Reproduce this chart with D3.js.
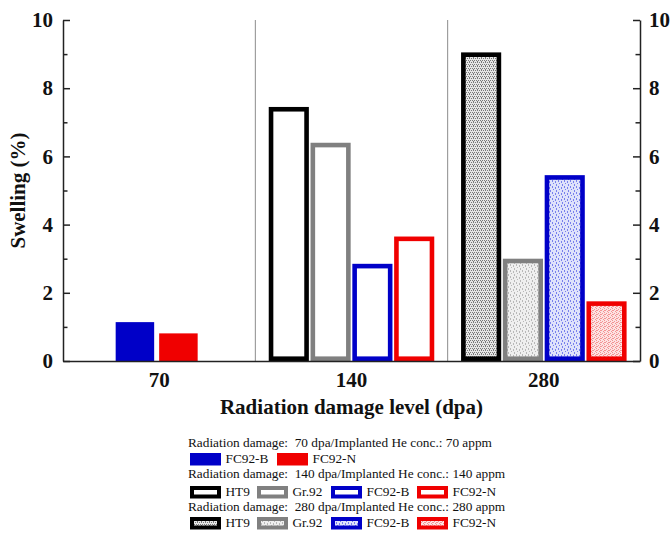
<!DOCTYPE html>
<html>
<head>
<meta charset="utf-8">
<script src="https://cdn.jsdelivr.net/npm/d3@7"></script>
<style>
  html, body { margin: 0; padding: 0; background: #fff; }
  svg { display: block; }
</style>
</head>
<body>
<svg id="chart" width="671" height="533"></svg>
<script>
// Damage levels (dpa) on the x axis
const damageLevels = ["70", "140", "280"];

// Swelling (%) per alloy at each damage level
const alloys70 = ["FC92-B", "FC92-N"];
const swelling70 = [1.14, 0.81];

const alloys140 = ["HT9", "Gr.92", "FC92-B", "FC92-N"];
const swelling140 = [7.45, 6.4, 2.85, 3.65];

const alloys280 = ["HT9", "Gr.92", "FC92-B", "FC92-N"];
const swelling280 = [9.05, 3.0, 5.45, 1.75];

// Y axis ticks
const yMajorTicks = [0, 2, 4, 6, 8, 10];
const yMinorTicks = [1, 3, 5, 7, 9];

// Legend headings
const legendHeadings = [
  "Radiation damage:  70 dpa/Implanted He conc.: 70 appm",
  "Radiation damage:  140 dpa/Implanted He conc.: 140 appm",
  "Radiation damage:  280 dpa/Implanted He conc.: 280 appm"
];

const alloyColor = { "HT9": "#000000", "Gr.92": "#808080", "FC92-B": "#0000c8", "FC92-N": "#f00000" };
const serif = "'Liberation Serif', 'Times New Roman', serif";

const svg = d3.select("#chart").style("font-family", serif);
const margin = { left: 63, right: 31, top: 20, bottom: 172 };
const W = 671, H = 533;
const x0 = margin.left, x1 = W - margin.right;
const yTop = margin.top, yBot = H - margin.bottom;

const x = d3.scaleBand().domain(damageLevels).range([x0, x1]).padding(0);
const y = d3.scaleLinear().domain([0, 10]).range([yBot, yTop]);

// Fill patterns used by the 280 dpa bars
const defs = svg.append("defs");
function dotPattern(id, bg, fg, cells, size) {
  const p = defs.append("pattern").attr("id", id).attr("patternUnits", "userSpaceOnUse")
    .attr("width", size).attr("height", size);
  p.append("rect").attr("width", size).attr("height", size).attr("fill", bg);
  cells.forEach(c => p.append("rect").attr("x", c[0]).attr("y", c[1])
    .attr("width", c[2] || 1).attr("height", c[3] || 1).attr("fill", fg));
}
dotPattern("pat-HT9", "#e6e6e6", "#7a7a7a", [[0,0],[2,0],[1,2],[3,2],[1,1]], 4);
dotPattern("pat-Gr92", "#efefef", "#b8b8b8", [[0,0,1,2],[3,1,1,2],[1,3,1,1],[4,4,1,2]], 6);
dotPattern("pat-FC92B", "#dfe2fb", "#7880ec", [[0,0,1,2],[3,1,1,2],[1,3,1,1],[4,4,1,2]], 6);
dotPattern("pat-FC92N", "#fde2e2", "#f39494", [[0,0],[2,1],[1,2],[3,3],[0,2]], 4);
const patternFor = { "HT9": "url(#pat-HT9)", "Gr.92": "url(#pat-Gr92)", "FC92-B": "url(#pat-FC92B)", "FC92-N": "url(#pat-FC92N)" };

// Panel dividers between damage levels
svg.append("g").selectAll("line").data(damageLevels.slice(1)).join("line")
  .attr("x1", d => x(d)).attr("x2", d => x(d))
  .attr("y1", yTop).attr("y2", yBot)
  .attr("stroke", "#8c8c8c").attr("stroke-width", 1);

const bw = 4.6; // outline width of hollow / patterned bars

function drawGroup(level, alloys, values, step, padIn, mode, shift) {
  const c = x(level) + x.bandwidth() / 2 + shift;
  const half = step * (alloys.length - padIn) / 2;
  const sub = d3.scaleBand().domain(alloys).range([c - half, c + half]).paddingInner(padIn).paddingOuter(0);
  const data = alloys.map((a, i) => ({ a, v: values[i] }));
  const g = svg.append("g");
  if (mode === "solid") {
    g.selectAll("rect").data(data).join("rect")
      .attr("x", d => sub(d.a)).attr("width", sub.bandwidth())
      .attr("y", d => y(d.v)).attr("height", d => yBot - y(d.v))
      .attr("fill", d => alloyColor[d.a]);
  } else {
    g.selectAll("rect").data(data).join("rect")
      .attr("x", d => sub(d.a) + bw / 2).attr("width", sub.bandwidth() - bw)
      .attr("y", d => y(d.v) + bw / 2).attr("height", d => yBot - y(d.v) - bw)
      .attr("fill", d => mode === "pattern" ? patternFor[d.a] : "#fff")
      .attr("stroke", d => alloyColor[d.a]).attr("stroke-width", bw);
  }
}
drawGroup("70", alloys70, swelling70, 43.5, 0.115, "solid", -2.5);
drawGroup("140", alloys140, swelling140, 41.8, 0.04, "outline", 0);
drawGroup("280", alloys280, swelling280, 41.8, 0.04, "pattern", 0);

// Axes
const axisColor = "#222";
function styleAxis(g) {
  g.attr("font-family", null).attr("font-size", null)
    .style("font-family", serif).style("font-size", "21px").style("font-weight", "bold");
  g.selectAll("path, line").attr("stroke", axisColor).attr("stroke-width", 1.5);
  g.selectAll("text").attr("fill", "#111");
}
const leftAxis = svg.append("g").attr("transform", `translate(${x0},0)`)
  .call(d3.axisLeft(y).tickValues(yMajorTicks).tickSize(-7).tickSizeOuter(0).tickPadding(10).tickFormat(d3.format("d")));
styleAxis(leftAxis);
const leftMinor = svg.append("g").attr("transform", `translate(${x0},0)`)
  .call(d3.axisLeft(y).tickValues(yMinorTicks).tickSize(-4.5).tickSizeOuter(0).tickFormat(""));
styleAxis(leftMinor); leftMinor.select(".domain").remove();

const rightAxis = svg.append("g").attr("transform", `translate(${x1},0)`)
  .call(d3.axisRight(y).tickValues(yMajorTicks).tickSize(-7).tickSizeOuter(0).tickPadding(9).tickFormat(d3.format("d")));
styleAxis(rightAxis);
const rightMinor = svg.append("g").attr("transform", `translate(${x1},0)`)
  .call(d3.axisRight(y).tickValues(yMinorTicks).tickSize(-4.5).tickSizeOuter(0).tickFormat(""));
styleAxis(rightMinor); rightMinor.select(".domain").remove();

const bottomAxis = svg.append("g").attr("transform", `translate(0,${yBot})`)
  .call(d3.axisBottom(x).tickSize(0).tickSizeOuter(0).tickPadding(11));
styleAxis(bottomAxis);

// Axis titles
svg.append("text").attr("x", (x0 + x1) / 2).attr("y", 414)
  .attr("text-anchor", "middle").style("font-size", "21px").style("font-weight", "bold").attr("fill", "#111")
  .text("Radiation damage level (dpa)");
svg.append("text").attr("transform", `translate(18,${(yTop + yBot) / 2}) rotate(-90)`)
  .attr("text-anchor", "middle").attr("dominant-baseline", "central")
  .style("font-size", "21px").style("font-weight", "bold").attr("fill", "#111")
  .text("Swelling (%)");

// Legend
const legendRows = [
  { heading: legendHeadings[0], alloys: alloys70, mode: "solid", slots: [190, 277], headY: 447, swY: 453 },
  { heading: legendHeadings[1], alloys: alloys140, mode: "outline", slots: [190, 257, 331, 417], headY: 478, swY: 486 },
  { heading: legendHeadings[2], alloys: alloys280, mode: "pattern", slots: [190, 257, 331, 417], headY: 511, swY: 517 }
];
const swW = 31, swH = 12.5, swSW = 4;
const legend = svg.append("g").style("font-size", "13.3px").attr("fill", "#111");
legendRows.forEach(row => {
  legend.append("text").attr("x", 188).attr("y", row.headY)
    .attr("xml:space", "preserve").style("white-space", "pre")
    .text(row.heading);
  row.alloys.forEach((a, i) => {
    const sx = row.slots[i];
    if (row.mode === "solid") {
      legend.append("rect").attr("x", sx).attr("y", row.swY).attr("width", swW).attr("height", swH)
        .attr("fill", alloyColor[a]);
    } else {
      legend.append("rect").attr("x", sx + swSW / 2).attr("y", row.swY + swSW / 2)
        .attr("width", swW - swSW).attr("height", swH - swSW)
        .attr("fill", row.mode === "pattern" ? patternFor[a] : "#fff")
        .attr("stroke", alloyColor[a]).attr("stroke-width", swSW);
    }
    legend.append("text").attr("x", sx + 35.5).attr("y", row.swY + swH - 3)
      .text(a);
  });
});
</script>
</body>
</html>
